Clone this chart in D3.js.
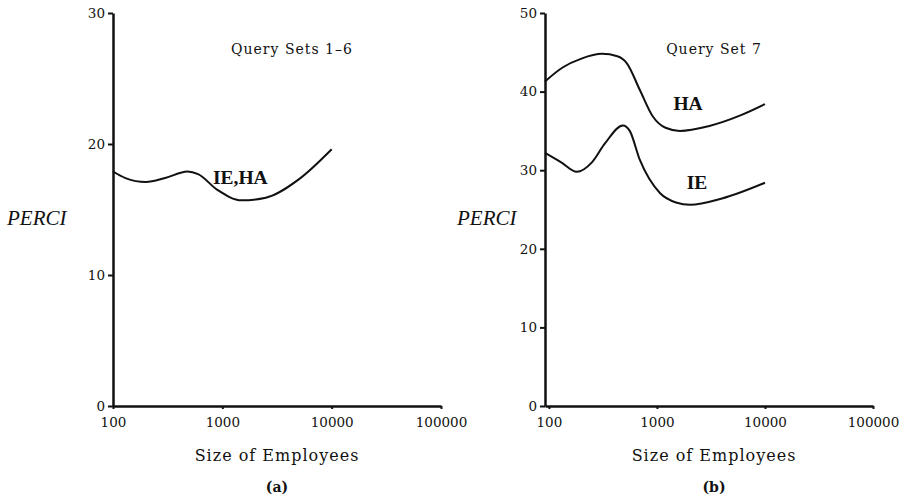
<!DOCTYPE html>
<html>
<head>
<meta charset="utf-8">
<script src="https://cdn.jsdelivr.net/npm/d3@7"></script>
<style>
  body { margin: 0; background: #fff; }
  svg { display: block; }
  text { font-family: "DejaVu Serif", "Liberation Serif", serif; fill: #111; }
  .tick text { font-size: 13.5px; }
  .axis path, .axis line { stroke: #111; }
  .axis path { stroke-width: 2.5; }
  .axis line { stroke-width: 2; }
</style>
</head>
<body>
<svg width="904" height="499"></svg>
<script>
// x values are employee counts, y values are PERCI
const xTicks = [100, 1000, 10000, 100000];

const setA = [[100, 17.9], [130, 17.4], [200, 17.1], [300, 17.4], [480, 17.9], [600, 17.7],
  [900, 16.5], [1500, 15.7], [2500, 15.9], [5000, 17.3], [10000, 19.6]];

const setB_HA = [[92, 41.3], [135, 43.1], [200, 44.2], [310, 44.8], [430, 44.5], [527, 43.6],
  [695, 40.2], [920, 36.8], [1200, 35.4], [1630, 35.0], [3000, 35.6], [6000, 37.0], [10000, 38.4]];

const setB_IE = [[92, 32.2], [130, 31.0], [181, 29.8], [250, 31.0], [330, 33.4], [484, 35.7],
  [560, 35.0], [695, 31.3], [1065, 27.1], [1500, 25.9], [2030, 25.6], [4000, 26.4], [10000, 28.4]];

const yTicksA = [0, 10, 20, 30];
const yTicksB = [0, 10, 20, 30, 40, 50];

const svg = d3.select("svg");

function drawPanel(opt) {
  const x = d3.scaleLog().domain(opt.xDomain).range(opt.xRange);
  const y = d3.scaleLinear().domain(opt.yDomain).range([406, 13]);
  const g = svg.append("g");

  g.append("g")
    .attr("class", "axis")
    .attr("transform", "translate(0,406)")
    .call(d3.axisBottom(x).tickValues(xTicks).tickFormat(d3.format("d")).tickSizeInner(3).tickSizeOuter(0).tickPadding(8));

  g.append("g")
    .attr("class", "axis")
    .attr("transform", `translate(${opt.xRange[0]},0)`)
    .call(d3.axisLeft(y).tickValues(opt.yTicks).tickSizeInner(5).tickSizeOuter(0).tickPadding(3));

  const line = d3.line()
    .x(d => x(d[0]))
    .y(d => y(d[1]))
    .curve(d3.curveMonotoneX);

  opt.series.forEach(s => {
    g.append("path")
      .datum(s.data)
      .attr("fill", "none")
      .attr("stroke", "#111")
      .attr("stroke-width", 2)
      .attr("d", line);
    g.append("text")
      .attr("x", x(s.labelAt[0]))
      .attr("y", y(s.labelAt[1]))
      .attr("text-anchor", "middle")
      .attr("dy", "0.35em")
      .style("font-family", "Liberation Serif")
      .style("font-weight", "bold")
      .style("font-size", "19.5px")
      .text(s.name);
  });

  g.append("text")
    .attr("x", opt.titleX)
    .attr("y", 49)
    .attr("dy", "0.35em")
    .attr("text-anchor", "middle")
    .style("font-size", "14px")
    .style("letter-spacing", "1px")
    .text(opt.title);

  g.append("text")
    .attr("x", opt.perciX)
    .attr("y", 218)
    .attr("dy", "0.35em")
    .style("font-family", "Liberation Serif")
    .style("font-style", "italic")
    .style("font-size", "21px")
    .text("PERCI");

  g.append("text")
    .attr("x", opt.captionX)
    .attr("y", 455)
    .attr("dy", "0.35em")
    .attr("text-anchor", "middle")
    .style("font-size", "16px")
    .style("letter-spacing", "1px")
    .text("Size of Employees");

  g.append("text")
    .attr("x", opt.captionX)
    .attr("y", 487)
    .attr("dy", "0.35em")
    .attr("text-anchor", "middle")
    .style("font-weight", "bold")
    .style("font-size", "14px")
    .text(opt.tag);
}

drawPanel({
  xDomain: [100, 100000], xRange: [113, 441],
  yDomain: [0, 30], yTicks: yTicksA,
  series: [{ name: "IE,HA", data: setA, labelAt: [1460, 17.5] }],
  title: "Query Sets 1–6", titleX: 292,
  perciX: 7, captionX: 277, tag: "(a)"
});

drawPanel({
  xDomain: [92, 100000], xRange: [545, 873],
  yDomain: [0, 50], yTicks: yTicksB,
  series: [
    { name: "HA", data: setB_HA, labelAt: [1940, 38.5] },
    { name: "IE", data: setB_IE, labelAt: [2350, 28.5] }
  ],
  title: "Query Set 7", titleX: 714,
  perciX: 457, captionX: 714, tag: "(b)"
});
</script>
</body>
</html>
